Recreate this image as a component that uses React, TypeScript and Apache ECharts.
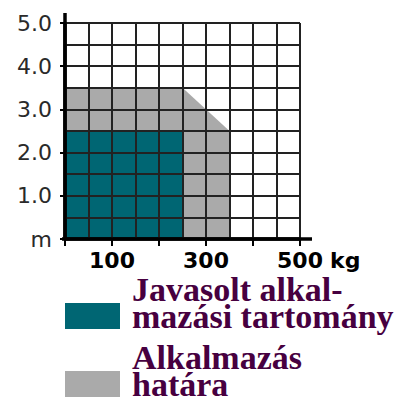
import React, { useEffect, useRef } from "react";
import * as echarts from "echarts";

// Load capacity (kg) axis
const xMin = 0;
const xMax = 500;
const xTickStep = 100;
const xLabelValues = [100, 300, 500];
const xUnit = "kg";

// Height (m) axis
const yMin = 0;
const yMax = 5;
const yTickStep = 1;
const yZeroLabel = "m";

// Regions (x = kg, y = m)
const recommendedName = "Javasolt alkal-\nmazási tartomány";
const recommendedPoints: [number, number][] = [
  [0, 2.5],
  [250, 2.5],
  [250, 0],
];
const limitName = "Alkalmazás\nhatára";
const limitPoints: [number, number][] = [
  [0, 3.5],
  [250, 3.5],
  [350, 2.5],
  [350, 0],
];

const TEAL = "#006673";
const GRAY = "#aaaaaa";
const GRID = "#222222";
const LEGEND_TEXT = "#470040";

export default function App() {
  const ref = useRef<HTMLDivElement>(null);

  useEffect(() => {
    if (!ref.current) return;
    const chart = echarts.init(ref.current, null, { renderer: "svg" });
    const gridLine = { color: GRID, width: 2 };
    const option: any = {
      animation: false,
      backgroundColor: "#ffffff",
      grid: { left: 65, right: 101, top: 23, bottom: 166 },
      legend: {
        orient: "vertical",
        left: 65,
        top: 272,
        width: 336,
        height: 600,
        padding: 0,
        itemWidth: 55,
        itemHeight: 26,
        itemGap: -20,
        selectedMode: false,
        icon: "rect",
        itemStyle: { borderWidth: 0 },
        // trailing blank line lifts the two text lines above the swatch centre
        formatter: (name: string) => name + "\n ",
        textStyle: {
          fontFamily: "Liberation Serif",
          fontWeight: "bold",
          fontSize: 34,
          lineHeight: 27,
          color: LEGEND_TEXT,
          padding: [0, 0, 0, 7],
        },
        data: [
          { name: recommendedName, itemStyle: { color: TEAL } },
          { name: limitName, itemStyle: { color: GRAY } },
        ],
      },
      xAxis: [
        {
          type: "value",
          min: xMin,
          max: xMax,
          interval: xTickStep,
          z: 5,
          name: xUnit,
          nameLocation: "end",
          nameGap: 30,
          nameTextStyle: {
            fontFamily: "DejaVu Sans",
            fontSize: 22,
            fontWeight: "bold",
            color: "#000",
            verticalAlign: "top",
            align: "left",
            padding: [10, 0, 0, 0],
          },
          axisLine: { show: true, lineStyle: { color: "#000", width: 3.5 } },
          axisTick: { show: true, length: 7, lineStyle: { color: "#000", width: 2 } },
          minorTick: { show: false, splitNumber: 2 },
          axisLabel: {
            margin: 10,
            fontFamily: "DejaVu Sans",
            fontSize: 22,
            fontWeight: "bold",
            color: "#000",
            formatter: (v: number) => (xLabelValues.includes(v) ? String(v) : ""),
          },
          splitLine: { show: true, lineStyle: gridLine },
          minorSplitLine: { show: true, lineStyle: gridLine },
        },
        {
          type: "value",
          position: "top",
          min: xMin,
          max: xMax,
          interval: xTickStep,
          z: 5,
          axisLine: { show: false },
          axisTick: { show: true, length: 6, lineStyle: gridLine },
          minorTick: { show: true, splitNumber: 2, length: 6, lineStyle: gridLine },
          axisLabel: { show: false },
          splitLine: { show: false },
        },
      ],
      yAxis: [
        {
          type: "value",
          min: yMin,
          max: yMax,
          interval: yTickStep,
          z: 5,
          axisLine: { show: true, lineStyle: { color: "#000", width: 3.5 } },
          axisTick: { show: true, length: 5, lineStyle: { color: "#000", width: 2 } },
          minorTick: { show: false, splitNumber: 2 },
          axisLabel: {
            margin: 13,
            fontFamily: "DejaVu Sans",
            fontSize: 22,
            color: "#2a2a2a",
            formatter: (v: number) => (v === 0 ? yZeroLabel : v.toFixed(1)),
          },
          splitLine: { show: true, lineStyle: gridLine },
          minorSplitLine: { show: true, lineStyle: gridLine },
        },
        {
          type: "value",
          position: "right",
          min: yMin,
          max: yMax,
          interval: yTickStep,
          z: 5,
          axisLine: { show: false },
          axisTick: { show: true, length: 7, lineStyle: gridLine },
          minorTick: { show: true, splitNumber: 2, length: 7, lineStyle: gridLine },
          axisLabel: { show: false },
          splitLine: { show: false },
        },
      ],
      series: [
        {
          name: limitName,
          type: "line",
          xAxisIndex: 0,
          yAxisIndex: 0,
          data: limitPoints,
          symbol: "none",
          silent: true,
          color: GRAY,
          lineStyle: { width: 0, color: GRAY },
          areaStyle: { color: GRAY, opacity: 1 },
          z: 1,
        },
        {
          name: recommendedName,
          type: "line",
          xAxisIndex: 0,
          yAxisIndex: 0,
          data: recommendedPoints,
          symbol: "none",
          silent: true,
          color: TEAL,
          lineStyle: { width: 0, color: TEAL },
          areaStyle: { color: TEAL, opacity: 1 },
          z: 2,
        },
      ],
    };
    chart.setOption(option);

    const p0 = chart.convertToPixel({ gridIndex: 0 }, [xMin, yMin]) as number[];
    const p1 = chart.convertToPixel({ gridIndex: 0 }, [xMax, yMax]) as number[];
    chart.setOption({
      graphic: [
        {
          type: "line",
          z: 20,
          shape: { x1: p0[0] - 3, y1: p0[1], x2: p1[0] + 12, y2: p0[1] },
          style: { stroke: "#000", lineWidth: 3.5 },
        },
        {
          type: "line",
          z: 20,
          shape: { x1: p0[0], y1: p0[1], x2: p0[0], y2: p1[1] - 10 },
          style: { stroke: "#000", lineWidth: 3.5 },
        },
      ],
    });

    return () => chart.dispose();
  }, []);

  return (
    <div
      ref={ref}
      style={{ position: "absolute", left: 0, top: 0, width: 401, height: 405 }}
    />
  );
}
